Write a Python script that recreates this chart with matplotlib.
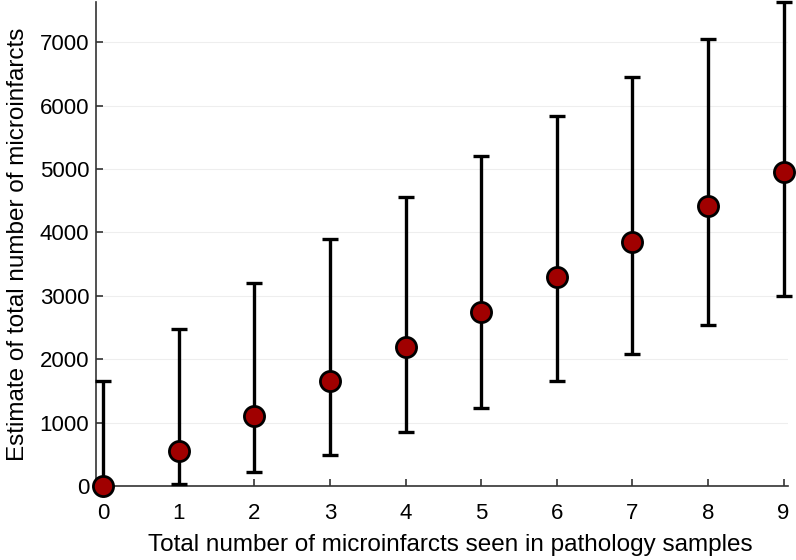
import numpy as np
import matplotlib
matplotlib.use('Agg')
import matplotlib.pyplot as plt

plt.rcParams['font.family'] = ['Liberation Sans', 'DejaVu Sans']

seen = [0, 1, 2, 3, 4, 5, 6, 7, 8, 9]
estimate = [0, 550, 1100, 1650, 2200, 2750, 3300, 3850, 4410, 4960]
upper = [1650, 2480, 3210, 3900, 4565, 5210, 5830, 6445, 7045, 7630]
lower = [0, 25, 215, 490, 850, 1230, 1655, 2085, 2540, 3000]

est = np.array(estimate)
yerr = [est - np.array(lower), np.array(upper) - est]

fig = plt.figure(figsize=(7.96, 5.6), dpi=100)
ax = fig.add_axes([0.121, 0.132, 0.869, 0.864])

ax.errorbar(seen, estimate, yerr=yerr, fmt='none', ecolor='black',
            elinewidth=2.4, capsize=6, capthick=2.4, clip_on=False, zorder=3)
ax.plot(seen, estimate, 'o', ms=14.5, mfc='#a00000', mec='black', mew=2,
        clip_on=False, zorder=4)

ax.set_xlim(-0.09, 9.06)
ax.set_ylim(0, 7630)
ax.set_xticks(seen)
ax.set_yticks(range(0, 8000, 1000))
ax.yaxis.grid(True, color='#eeeeee', lw=0.8)
ax.set_axisbelow(True)

for s in ['top', 'right']:
    ax.spines[s].set_visible(False)
for s in ['left', 'bottom']:
    ax.spines[s].set_color('#333333')
    ax.spines[s].set_linewidth(1.2)
ax.tick_params(direction='in', length=5, width=1.2, colors='#333333',
               labelcolor='black', labelsize=16)
ax.tick_params(axis='x', pad=12)
ax.tick_params(axis='y', pad=5)

ax.set_xlabel('Total number of microinfarcts seen in pathology samples', fontsize=17.5)
ax.xaxis.set_label_coords(0.512, -0.1)
ax.set_ylabel('Estimate of total number of microinfarcts', fontsize=17.5, labelpad=8)

fig.savefig('out.png', dpi=100)
